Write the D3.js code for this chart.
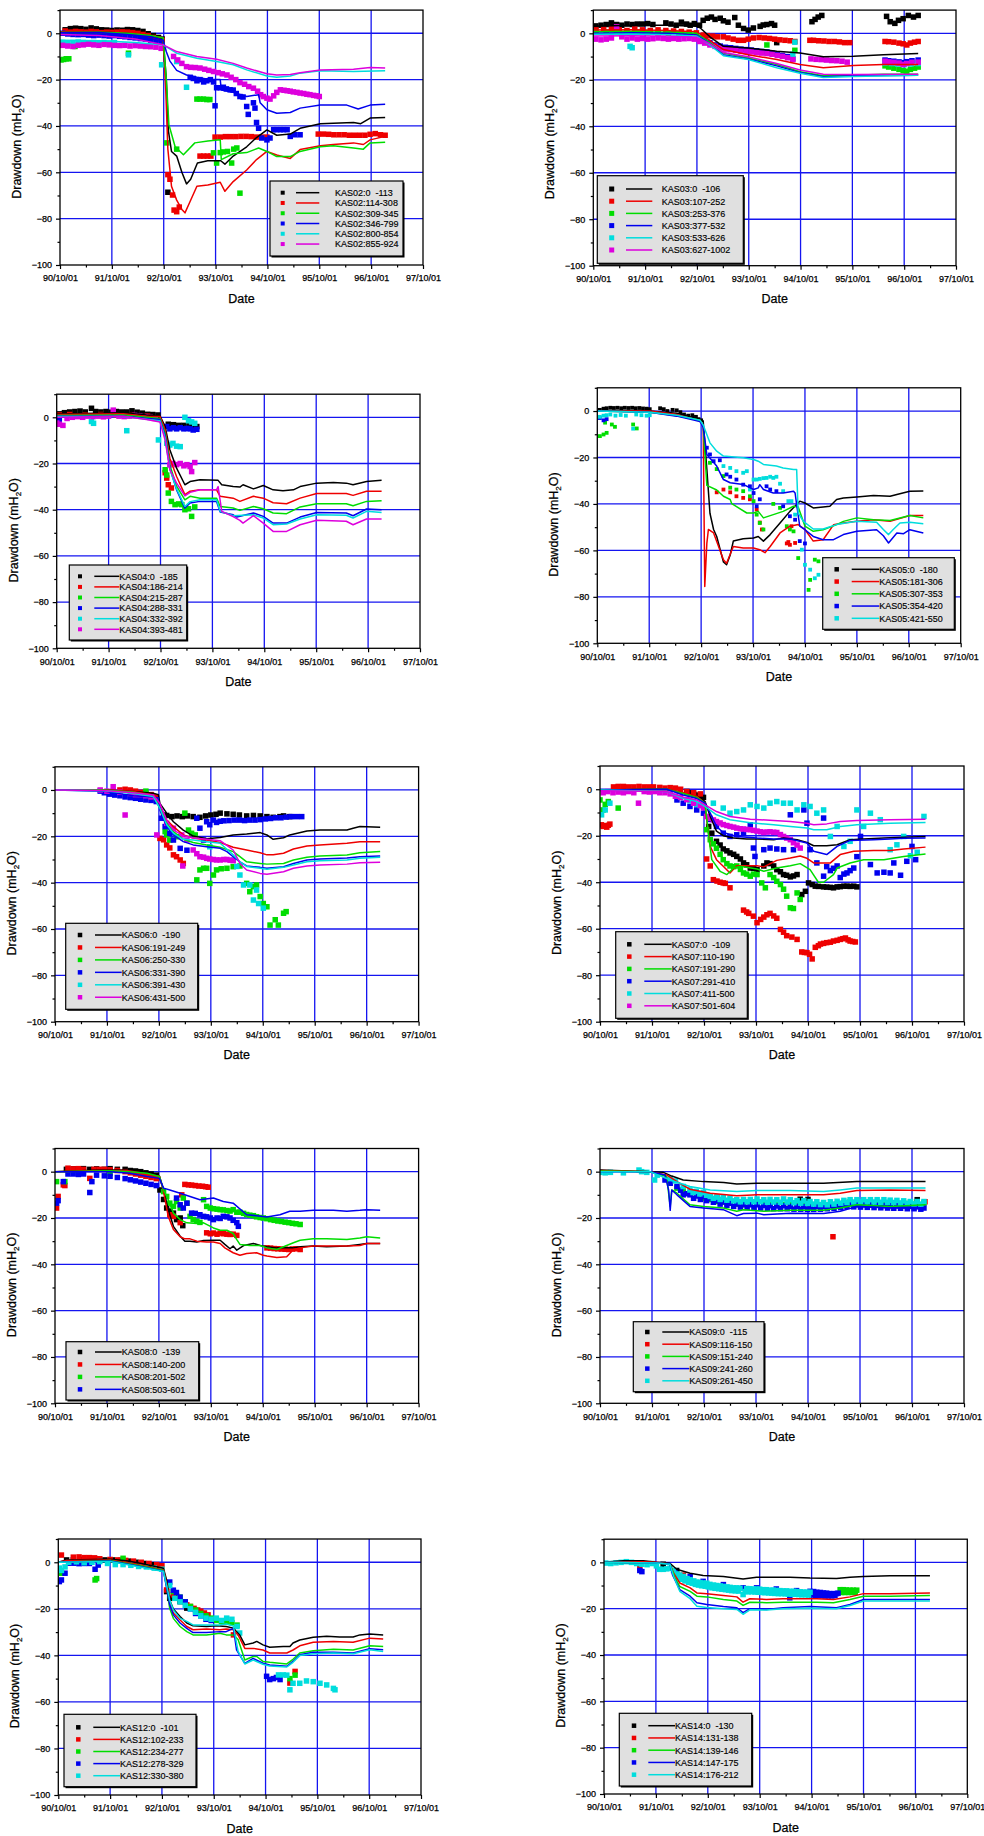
<!DOCTYPE html>
<html><head><meta charset="utf-8">
<script src="https://cdn.jsdelivr.net/npm/d3@7"></script>
<style>
body{margin:0;background:#fff;}
svg{display:block;font-family:"Liberation Sans",Arial,sans-serif;}
text{white-space:pre;}
</style></head>
<body>
<svg id="c" width="984" height="1836"></svg>
<script>
// ---------- shared axis data ----------
const xTickYears = [90.75, 91.75, 92.75, 93.75, 94.75, 95.75, 96.75, 97.75];
const xTickLabels = ["90/10/01","91/10/01","92/10/01","93/10/01","94/10/01","95/10/01","96/10/01","97/10/01"];
const xMinorYears = [91.25, 92.25, 93.25, 94.25, 95.25, 96.25, 97.25];
const yTicks = [0, -20, -40, -60, -80, -100];
const yMinor = [10, -10, -30, -50, -70, -90];
const yGrid = [0, -20, -40, -60, -80];
const seriesColors = ["#000000", "#ee0000", "#00dd00", "#0000ee", "#00dddd", "#dd00dd"];

// ---------- KAS02 ----------
const kas02Names = ["KAS02:0\u00a0 -113","KAS02:114-308","KAS02:309-345","KAS02:346-799","KAS02:800-854","KAS02:855-924"];
const kas02Lines = [
 [[90.75,0.4],[91.5,0.5],[92.04,0],[92.3,-0.8],[92.6,-1.8],[92.74,-2.5],[92.8,-20],[92.84,-42],[92.9,-51],[93.0,-53],[93.1,-60],[93.19,-65],[93.27,-63],[93.4,-56],[93.6,-55],[93.85,-55],[93.93,-56.5],[94.09,-53],[94.35,-49],[94.54,-45],[94.74,-41.7],[94.93,-44],[95.19,-43.5],[95.38,-41],[95.77,-39],[96.02,-38.8],[96.41,-38.5],[96.55,-39],[96.73,-36.6],[97.02,-36.3]],
 [[90.75,0.6],[91.5,0.6],[92.04,0],[92.5,-1.5],[92.74,-3],[92.79,-25],[92.83,-50],[92.9,-66],[93.0,-72],[93.1,-76],[93.16,-77.5],[93.25,-73],[93.39,-66],[93.6,-65.5],[93.84,-64.3],[93.93,-68.2],[94.09,-64],[94.35,-59],[94.54,-54.5],[94.74,-51],[94.93,-52.5],[95.19,-54],[95.38,-50.2],[95.77,-48.5],[96.02,-48],[96.41,-47.3],[96.6,-48],[96.73,-46],[97.02,-44.5]],
 [[90.75,0.3],[91.5,0.4],[92.04,0],[92.5,-1],[92.74,-2],[92.8,-20],[92.85,-39.5],[92.97,-49],[93.13,-52.4],[93.35,-47.3],[93.6,-46.5],[93.84,-46],[93.86,-54.5],[94.09,-52],[94.35,-51.5],[94.58,-49.5],[94.74,-51],[94.93,-53.2],[95.19,-53.2],[95.38,-51],[95.77,-49],[96.02,-48.5],[96.41,-49.5],[96.6,-50],[96.73,-47.3],[97.02,-47]],
 [[90.75,0.2],[91.5,0.3],[92.04,-0.5],[92.5,-1.5],[92.74,-3],[92.8,-8],[92.87,-12],[93.0,-16],[93.19,-18],[93.39,-19],[93.65,-20],[93.84,-20],[93.86,-24.5],[94.09,-25.5],[94.35,-27.3],[94.58,-26.5],[94.61,-30],[94.74,-33],[94.93,-34.5],[95.19,-34.2],[95.38,-32.3],[95.77,-31],[96.28,-31],[96.5,-32.7],[96.73,-31],[97.02,-30.6]],
 [[90.75,-3],[91.5,-3.2],[92.2,-4],[92.74,-5],[93.0,-8.6],[93.39,-10.8],[93.77,-12.2],[94.09,-13.6],[94.35,-15.8],[94.74,-18.4],[94.93,-19],[95.19,-18.4],[95.38,-17.2],[95.77,-16.2],[96.41,-16.5],[97.02,-16.2]],
 [[90.75,-0.5],[91.5,-1],[92.2,-2.5],[92.74,-5],[93.0,-7.9],[93.39,-10],[93.77,-11.2],[94.09,-13],[94.35,-15],[94.74,-17.5],[94.93,-18],[95.19,-17.8],[95.38,-17],[95.77,-15.8],[96.41,-15.5],[96.73,-14.8],[97.02,-15]]
];
const kas02Points = [
 [[90.85,1.5],[90.95,2],[91.05,2.2],[91.15,2],[91.25,1.7],[91.35,2.3],[91.45,1.9],[91.55,1.5],[91.65,1.4],[91.75,1.2],[91.85,1.4],[91.95,1.3],[92.05,1.6],[92.15,1.5],[92.25,1.2],[92.35,0.8],[92.45,-0.2],[92.55,-1],[92.65,-1.8],[92.72,-2.5],[92.83,-68.6]],
 [[90.85,1],[90.95,0.5],[91.05,0.8],[91.15,0.6],[91.25,0.5],[91.35,0.8],[91.45,0.6],[91.55,0.3],[91.65,0.5],[91.75,0.4],[91.85,0.5],[91.95,0.6],[92.05,0.5],[92.15,0.3],[92.25,0],[92.35,-0.5],[92.45,-1],[92.55,-1.8],[92.65,-2.5],[92.72,-3],[92.83,-61],[92.87,-63],[92.92,-69.8],[92.95,-76.3],[93.0,-77],[93.05,-75],[93.45,-53],[93.52,-53],[93.59,-53],[93.66,-53],[93.74,-44.8],[93.84,-44.8],[93.94,-44.6],[94.04,-44.6],[94.14,-44.6],[94.24,-44.5],[94.34,-44.5],[94.44,-44.6],[94.54,-44.8],[94.64,-44.8],[94.74,-44.8],[95.73,-43.5],[95.83,-43.5],[95.93,-43.6],[96.03,-43.8],[96.13,-43.8],[96.23,-43.8],[96.33,-44],[96.43,-44],[96.53,-44],[96.63,-44],[96.73,-43.6],[96.83,-43.3],[96.93,-43.8],[97.02,-44]],
 [[90.77,-11.5],[90.82,-11.3],[90.87,-11],[90.92,-11],[91.04,-5.7],[92.07,-8.6],[92.81,-47.3],[93.0,-50],[93.39,-28.4],[93.45,-28.4],[93.52,-28.4],[93.58,-28.6],[93.64,-28.6],[93.71,-51.6],[93.77,-56],[93.84,-51.5],[93.9,-51.2],[93.98,-51],[94.06,-56],[94.1,-50],[94.16,-49.5],[94.22,-69]],
 [[90.8,0],[90.9,-0.3],[91.0,-0.5],[91.1,-0.6],[91.2,-0.5],[91.3,-0.8],[91.4,-1],[91.5,-0.8],[91.6,-1],[91.7,-1.2],[91.8,-1],[91.9,-1.3],[92.0,-1.5],[92.1,-1.8],[92.2,-2],[92.3,-2.3],[92.4,-2.5],[92.5,-3],[92.6,-3.5],[92.7,-4],[93.26,-19],[93.32,-19.5],[93.39,-20.5],[93.45,-20],[93.52,-21],[93.58,-20.5],[93.65,-20],[93.71,-21],[93.74,-31.3],[93.77,-23.5],[93.84,-23.5],[93.9,-23.3],[93.96,-24],[94.03,-24.4],[94.09,-24.5],[94.15,-26],[94.22,-27.3],[94.28,-27.5],[94.35,-31.6],[94.38,-35],[94.48,-30],[94.51,-32.3],[94.54,-38.5],[94.58,-41],[94.64,-45.2],[94.74,-46],[94.8,-45.2],[94.87,-41.6],[94.93,-41.6],[95.0,-41.6],[95.06,-41.6],[95.13,-41.6],[95.19,-44.5],[95.28,-43.8],[95.38,-43.8]],
 [[90.8,-4],[90.9,-4.2],[91.0,-4],[91.1,-3.8],[91.2,-4],[91.3,-4.2],[91.4,-4],[91.5,-4.3],[91.6,-4],[91.7,-4.2],[91.8,-4],[92.07,-9.3],[92.71,-13.6],[93.0,-12.2],[93.19,-23.3]],
 [[90.8,-5.2],[90.9,-5.5],[91.0,-5.7],[91.1,-5.2],[91.2,-5],[91.3,-4.7],[91.4,-5],[91.5,-5.2],[91.6,-4.8],[91.7,-5],[91.8,-5.2],[91.9,-5.3],[92.0,-5.2],[92.1,-5.5],[92.2,-5.3],[92.3,-5.5],[92.4,-5.7],[92.5,-5.8],[92.6,-6],[92.7,-6.5],[92.94,-10],[93.02,-11.5],[93.1,-13],[93.19,-14.4],[93.27,-14.7],[93.36,-14.8],[93.45,-15],[93.54,-15.5],[93.62,-16],[93.71,-16.5],[93.8,-17],[93.88,-17.5],[93.97,-18],[94.05,-19],[94.14,-20],[94.22,-21.3],[94.31,-22],[94.39,-23],[94.48,-23.7],[94.56,-25],[94.62,-26.5],[94.67,-27.3],[94.74,-28],[94.8,-28.4],[94.87,-27],[94.93,-25.5],[95.0,-24.4],[95.07,-24.6],[95.13,-24.8],[95.19,-25],[95.25,-25.3],[95.32,-25.5],[95.38,-25.8],[95.45,-26],[95.51,-26.3],[95.57,-26.5],[95.64,-26.8],[95.7,-27],[95.75,-27.3]]
];

// ---------- KAS03 ----------
const kas03Names = ["KAS03:0\u00a0 -106","KAS03:107-252","KAS03:253-376","KAS03:377-532","KAS03:533-626","KAS03:627-1002"];
const kas03Lines = [
 [[90.75,3],[91.5,3.5],[92.2,3.5],[92.74,3],[92.81,2.4],[93.0,-1.5],[93.26,-5.6],[93.74,-6.3],[94.29,-7.7],[94.74,-8.5],[95.19,-10.1],[95.77,-9.9],[96.35,-9.2],[97.02,-8.7]],
 [[90.75,1.4],[91.5,1.5],[92.2,1.2],[92.74,0.7],[93.0,-3],[93.26,-7],[93.74,-9.2],[94.29,-11.3],[94.74,-13.4],[95.19,-14.8],[95.77,-13.8],[96.35,-13.4],[97.02,-13.4]],
 [[90.75,0.7],[91.5,0.8],[92.2,0.5],[92.74,0],[93.0,-4],[93.26,-8.5],[93.74,-10.6],[94.29,-13.4],[94.74,-16.5],[95.19,-18.3],[95.77,-18],[96.35,-17.6],[97.02,-17.6]],
 [[90.75,0],[91.5,0.2],[92.2,0],[92.74,-0.7],[93.0,-4.5],[93.26,-9.2],[93.74,-11],[94.29,-14],[94.74,-16.9],[95.19,-18.7],[95.77,-18.3],[97.02,-18]],
 [[90.75,-0.4],[91.5,-0.3],[92.2,-0.6],[92.74,-1.1],[93.0,-5],[93.26,-9.6],[93.74,-11.3],[94.29,-14.8],[94.74,-17.2],[95.19,-19],[95.77,-18.6],[97.02,-18]],
 [[90.75,-1.1],[91.5,-1],[92.2,-1.2],[92.74,-1.7],[93.0,-4.5],[93.26,-8.2],[93.74,-10.1],[94.29,-13],[94.74,-15.8],[95.19,-17.6],[95.77,-17.7],[97.02,-17.6]]
];
const kas03Points = [
 [[90.8,3.2],[90.9,3.5],[91.0,3.8],[91.1,4.5],[91.2,3.8],[91.3,3.5],[91.4,4],[91.5,3.8],[91.6,4],[91.7,4],[91.8,4.2],[91.9,3.8],[92.15,4.5],[92.25,4],[92.35,3.5],[92.45,4.8],[92.55,4],[92.62,3.5],[92.7,4.2],[92.8,3.5],[92.87,5.6],[92.95,6.5],[93.03,7],[93.1,6],[93.2,6.5],[93.26,5.4],[93.35,4.8],[93.48,6.8],[93.55,3.5],[93.65,2.1],[93.74,1.4],[93.84,2.3],[93.97,3],[94.03,3.6],[94.1,3.8],[94.19,4.2],[94.25,3.5],[94.29,-4],[94.97,5],[95.03,6],[95.09,7],[95.16,7.7],[96.41,7.3],[96.48,5],[96.57,4.3],[96.64,5.6],[96.73,6.3],[96.83,7.7],[96.93,7],[97.02,7.7]],
 [[90.8,1.5],[90.95,1.8],[91.1,2],[91.25,1.5],[91.4,1.2],[91.55,1.8],[91.7,1.5],[91.85,1.2],[92.0,1.5],[92.15,1.2],[92.3,1],[92.45,0.8],[92.6,0.5],[92.74,0.2],[92.87,-0.7],[92.95,-1],[93.05,-1.2],[93.15,-1.5],[93.26,-1.5],[93.35,-2],[93.45,-2.5],[93.55,-3],[93.65,-3],[93.74,-2.5],[93.84,-2],[93.95,-1.8],[94.05,-2],[94.15,-2.2],[94.25,-2.5],[94.35,-2.8],[94.45,-3],[94.55,-3.2],[94.64,-3.5],[94.93,-3],[95.0,-3],[95.1,-3.2],[95.2,-3.3],[95.3,-3.5],[95.4,-3.5],[95.5,-3.7],[95.6,-4],[95.7,-4],[96.38,-3.5],[96.45,-3.6],[96.55,-3.8],[96.65,-4.2],[96.73,-4.5],[96.8,-5],[96.87,-4.2],[96.95,-3.8],[97.02,-3.5]],
 [[90.8,0.5],[91.0,0.5],[91.2,0.8],[91.4,0.5],[91.6,0.5],[91.8,0.3],[92.0,0.3],[92.2,0],[92.4,-0.2],[92.6,-0.5],[94.1,-5],[94.64,-7.3],[96.38,-14],[96.45,-14.5],[96.55,-15],[96.65,-15.5],[96.73,-16],[96.8,-16.3],[96.87,-15.5],[96.95,-15],[97.02,-14.5]],
 [[92.9,-3],[93.0,-4],[93.1,-5],[93.2,-5.5],[93.3,-6],[93.4,-6.2],[93.5,-6.5],[93.6,-6.8],[93.7,-7],[93.8,-7.2],[93.9,-7.5],[94.0,-7.8],[94.1,-8],[94.2,-8.5],[94.3,-9],[94.4,-9.5],[94.5,-10],[94.6,-11],[96.38,-11.5],[96.45,-11.8],[96.55,-12],[96.65,-12.3],[96.73,-12.6],[96.8,-12.2],[96.9,-11.8],[97.02,-11.5]],
 [[91.46,-5.6],[91.5,-6.2],[94.64,-3.8],[94.6,-9],[96.38,-12.8],[96.5,-13],[96.62,-13.2],[96.75,-13.5],[96.88,-13.2],[97.02,-13]],
 [[90.8,-2.5],[90.9,-2.8],[91.0,-2.5],[91.1,-2],[91.2,2.8],[91.3,-1.5],[91.4,-2.5],[91.5,-2],[91.6,-2.5],[91.7,-2.2],[91.8,-2.5],[91.9,-2.3],[92.0,-2],[92.1,-2.2],[92.2,-2.5],[92.3,-2.2],[92.4,-2.5],[92.5,-2.3],[92.6,-2.2],[92.7,-2.5],[92.8,-3.5],[92.9,-4.2],[93.0,-5],[93.1,-5.6],[93.2,-6.3],[93.3,-6.8],[93.4,-7],[93.5,-7.3],[93.6,-7.7],[93.7,-7.8],[93.8,-8],[93.9,-8.3],[94.0,-8.5],[94.1,-8.7],[94.2,-9],[94.3,-9.5],[94.4,-9.9],[94.5,-10.5],[94.6,-11.3],[94.95,-11],[95.05,-11.2],[95.15,-11.3],[95.25,-11.5],[95.35,-11.7],[95.45,-11.8],[95.55,-12],[95.65,-12.4],[96.38,-12],[96.45,-12.3],[96.55,-12.5],[96.65,-12.8],[96.73,-13.4],[96.8,-13],[96.9,-12.5],[97.02,-12.4]]
];

// ---------- KAS04 ----------
const kas04Names = ["KAS04:0\u00a0 -185","KAS04:186-214","KAS04:215-287","KAS04:288-331","KAS04:332-392","KAS04:393-481"];
const kas04Lines = [
 [[90.75,1.4],[92.03,2],[92.48,1],[92.74,0.6],[92.84,-4],[92.93,-14],[93.06,-22],[93.22,-29.2],[93.32,-27.8],[93.51,-27],[93.86,-27.3],[93.93,-29.2],[94.15,-30],[94.28,-30.2],[94.34,-29.2],[94.54,-31],[94.73,-29.5],[94.92,-31.4],[95.11,-31.8],[95.31,-31.4],[95.44,-30],[95.76,-28.5],[96.08,-28.2],[96.33,-28.5],[96.46,-29.2],[96.72,-27.8],[97.01,-27.3]],
 [[90.75,1.2],[92.03,1.5],[92.48,0.5],[92.74,0.3],[92.84,-5.5],[92.93,-17.7],[93.06,-25.6],[93.22,-33.5],[93.32,-32],[93.51,-31.4],[93.83,-31.4],[93.9,-34.2],[94.15,-35],[94.28,-36.4],[94.54,-34.2],[94.73,-35],[94.92,-37],[95.18,-37.4],[95.44,-35],[95.76,-33],[96.33,-33],[96.46,-33.8],[96.72,-32],[97.01,-32]],
 [[90.75,0.8],[92.03,1],[92.48,0],[92.74,-0.5],[92.84,-7],[92.93,-20.6],[93.06,-29.8],[93.22,-35.7],[93.32,-34.2],[93.51,-35],[93.83,-35],[93.9,-38.6],[94.15,-39.3],[94.28,-40.3],[94.54,-38.6],[94.73,-39.6],[94.92,-41.4],[95.18,-41.7],[95.44,-38.8],[95.76,-37.4],[96.33,-37.4],[96.46,-38.3],[96.72,-36.4],[97.01,-36.1]],
 [[90.75,0.5],[92.03,0.5],[92.48,-0.5],[92.74,-1],[92.84,-8],[92.93,-22],[93.06,-31.4],[93.22,-39.3],[93.32,-37.1],[93.51,-36.4],[93.83,-36.4],[93.9,-41],[94.15,-42.2],[94.22,-43.2],[94.54,-41.4],[94.73,-42.9],[94.92,-45.8],[95.18,-45.8],[95.44,-43.2],[95.76,-41.2],[96.33,-41.4],[96.46,-42.6],[96.72,-39.7],[97.01,-40]],
 [[90.75,0.3],[92.03,0.3],[92.48,-0.8],[92.74,-1.5],[92.84,-9],[92.93,-22.5],[93.06,-31],[93.22,-38.6],[93.32,-36.5],[93.51,-35.7],[93.83,-35.7],[93.9,-40.7],[94.15,-42.6],[94.54,-42.2],[94.73,-43.6],[94.92,-46.5],[95.18,-46.2],[95.44,-44],[95.76,-42.2],[96.33,-42.4],[96.46,-43.6],[96.72,-40.7],[97.01,-41.2]],
 [[90.75,0],[92.03,0.5],[92.48,-1],[92.74,-2],[92.84,-10],[92.93,-22.7],[93.06,-28.5],[93.22,-34],[93.32,-32.5],[93.51,-31.4],[93.83,-31.4],[93.86,-30],[93.93,-40.7],[94.15,-43],[94.28,-44.6],[94.34,-45.8],[94.54,-42.6],[94.73,-45.8],[94.92,-49.4],[95.18,-49.4],[95.44,-46.5],[95.76,-44.6],[96.33,-45],[96.46,-46.5],[96.72,-44],[97.01,-44]]
];
const kas04Points = [
 [[90.8,1.5],[90.9,2],[91.0,2.3],[91.1,2.5],[91.2,2.7],[91.3,2.3],[91.42,3.9],[91.5,2.5],[91.6,2.3],[91.7,2.5],[91.8,2.2],[91.9,2.5],[92.0,2.3],[92.1,2.3],[92.2,2.8],[92.3,2.2],[92.4,1.8],[92.5,1.3],[92.6,1.2],[92.7,1],[92.9,-3],[93.0,-3.2],[93.1,-3.5],[93.2,-3.5],[93.3,-3.3],[93.38,-3.8],[93.45,-4]],
 [[90.8,1],[91.0,1.2],[91.3,1],[91.6,1.2],[91.9,1],[92.2,0.8],[92.5,0.5],[92.84,-24],[92.87,-26.3],[92.9,-29.2],[92.96,-30.6]],
 [[92.84,-22.7],[92.87,-25],[92.9,-32.8],[92.96,-36.4],[93.03,-37.8],[93.1,-37.5],[93.16,-37.8],[93.22,-40],[93.29,-39.6],[93.35,-42.9],[93.41,-38.8]],
 [[90.75,-1],[90.8,-1.5],[92.87,-4],[92.93,-5],[93.0,-4.5],[93.06,-5],[93.13,-4.5],[93.2,-5],[93.26,-4.8],[93.32,-5],[93.38,-5.5],[93.45,-5.2]],
 [[91.46,-2.6],[91.42,-1.8],[92.1,-5.8],[92.71,-9.8],[92.87,-11.2],[92.93,-12],[92.99,-11.3],[93.06,-12.5],[93.13,-12.7],[93.22,0],[93.29,-1.5],[93.35,-2],[93.41,-2.6]],
 [[90.75,-2.5],[90.8,-3],[90.87,-3.5],[90.95,-0.5],[91.05,0],[91.15,0.3],[91.25,0],[91.35,0.5],[91.45,0.3],[91.55,0.5],[91.65,0.2],[91.75,0.5],[91.84,3.1],[91.95,0.5],[92.05,0.3],[92.15,0.5],[92.25,0.8],[92.35,0.5],[92.45,0.3],[92.55,0],[92.65,-0.5],[92.93,-20.6],[92.99,-20],[93.06,-20.5],[93.13,-20],[93.2,-21],[93.26,-20.5],[93.32,-21.3],[93.35,-23.5],[93.41,-19.6]]
];

// ---------- KAS05 ----------
const kas05Names = ["KAS05:0\u00a0 -180","KAS05:181-306","KAS05:307-353","KAS05:354-420","KAS05:421-550"];
const kas05Lines = [
 [[90.75,0],[91.76,0],[92.28,-1],[92.73,-3.6],[92.79,-4.3],[92.86,-25],[92.92,-44],[92.99,-51],[93.05,-54],[93.18,-65],[93.24,-66.2],[93.31,-62],[93.37,-56],[93.56,-55],[93.76,-54.7],[93.85,-54],[93.95,-56],[94.08,-53.2],[94.27,-48.2],[94.46,-43.2],[94.65,-38.8],[94.75,-39.6],[94.91,-41.7],[95.1,-41.3],[95.23,-41],[95.36,-38.1],[95.49,-37.4],[95.75,-37],[96.07,-36.4],[96.39,-36.7],[96.52,-35.9],[96.77,-34.5],[97.03,-34.4]],
 [[90.75,0],[91.76,0],[92.28,-1.5],[92.73,-4.3],[92.79,-6.5],[92.82,-75.5],[92.86,-57],[92.89,-51],[92.99,-52.5],[93.18,-64],[93.24,-65.5],[93.37,-58.3],[93.56,-59],[93.76,-59],[93.88,-59.7],[93.98,-61],[94.08,-58.3],[94.27,-52.5],[94.46,-49.6],[94.62,-48.9],[94.75,-51],[94.91,-56],[95.1,-55.4],[95.3,-49],[95.49,-48.2],[95.75,-47.5],[96.07,-46.8],[96.39,-47.5],[96.77,-45],[97.03,-45]],
 [[90.75,0],[91.76,-0.5],[92.28,-2],[92.73,-4],[92.79,-6.5],[92.86,-32],[93.05,-34],[93.18,-36.7],[93.31,-38.1],[93.34,-39.9],[93.63,-43.9],[93.76,-43.9],[93.85,-43.2],[93.95,-46],[94.14,-44.6],[94.33,-43.2],[94.53,-41],[94.62,-41.3],[94.75,-49.6],[94.91,-51.8],[95.1,-51.1],[95.36,-48.9],[95.49,-47.5],[95.75,-46],[96.07,-46.8],[96.39,-47.1],[96.77,-45],[97.03,-46]],
 [[90.75,0],[91.76,-0.5],[92.28,-2.2],[92.73,-4.5],[92.79,-7],[92.86,-18.7],[93.05,-23.7],[93.18,-29.5],[93.31,-30.9],[93.56,-31.6],[93.76,-33.8],[93.85,-33.1],[93.88,-31.7],[93.95,-33.8],[94.14,-35.3],[94.33,-35.3],[94.53,-34.5],[94.56,-35.3],[94.59,-40.3],[94.65,-49.6],[94.75,-51.1],[94.91,-54],[95.1,-55.4],[95.3,-55.4],[95.49,-53.2],[95.75,-51.8],[96.13,-51.1],[96.26,-53.7],[96.36,-56.8],[96.52,-52.5],[96.65,-52.8],[96.77,-51.1],[97.03,-52.5]],
 [[90.75,0],[91.76,-0.5],[92.28,-1.8],[92.73,-4],[92.79,-6],[92.92,-13.7],[93.05,-17.3],[93.18,-19.4],[93.56,-20.1],[93.76,-20.9],[93.85,-21.6],[93.95,-23],[94.2,-23.7],[94.33,-24.5],[94.53,-25.2],[94.59,-25.2],[94.62,-43.9],[94.72,-47.5],[94.91,-50.8],[95.1,-50.8],[95.36,-48.9],[95.75,-47.5],[96.13,-47.9],[96.26,-51],[96.36,-53.2],[96.45,-51],[96.58,-48.2],[96.77,-47.9],[97.03,-48.5]]
];
const kas05Points = [
 [[90.8,0.5],[90.87,1],[90.93,1.2],[91.0,1.4],[91.07,1.3],[91.14,1.4],[91.21,1.2],[91.28,1.4],[91.35,1.3],[91.42,1.4],[91.49,1.2],[91.56,1.3],[91.63,1.1],[91.7,1],[91.76,0.8],[91.96,1.2],[92.03,0.8],[92.1,0],[92.2,0.5],[92.28,0.3],[92.35,-0.5],[92.42,-1.5],[92.5,-2],[92.58,-1.8],[92.65,-2.5],[92.7,-3.5],[92.75,-4]],
 [[93.05,-35],[93.18,-33.8],[93.31,-35],[93.43,-36.7],[93.56,-37.4],[93.69,-38],[93.82,-42.4],[93.88,-48],[93.92,-51],[94.4,-57],[94.43,-56.4],[94.46,-57.6],[94.56,-56.8],[94.49,-49.6]],
 [[90.8,-10.8],[90.87,-10.1],[90.93,-9.4],[90.9,-5],[91.03,-5.8],[91.09,-6.8],[91.44,-5.8],[91.51,-7.5],[92.92,-22.3],[93.05,-25],[93.18,-28],[93.31,-33],[93.43,-33.8],[93.56,-34.5],[93.69,-36.7],[93.76,-38.8],[93.82,-44.6],[93.88,-48.2],[93.95,-51],[94.14,-40],[94.27,-41.7],[94.4,-49.6],[94.46,-51],[94.53,-51.8],[94.62,-63.3],[94.82,-77],[94.85,-72.7],[94.94,-64],[95.01,-64.7]],
 [[90.8,-3],[90.87,-4],[90.93,-3.5],[92.86,-15.8],[92.92,-18.7],[92.99,-21.6],[93.11,-21.2],[93.24,-27.3],[93.31,-28.3],[93.43,-29.5],[93.56,-31.7],[93.69,-32.4],[93.76,-35.3],[93.82,-41],[93.88,-38],[94.01,-32.4],[94.08,-33.8],[94.2,-34.5],[94.33,-41],[94.46,-45.3],[94.56,-46.8],[94.65,-56],[94.75,-57]],
 [[90.8,-2.5],[90.87,-2],[90.93,-1.8],[91.0,-1.5],[91.1,-2],[91.2,-1.7],[91.3,-2],[91.44,-7.6],[91.5,-1.5],[91.6,-1.8],[91.7,-2],[91.76,-1.8],[93.18,-23.7],[93.31,-24.5],[93.43,-25.9],[93.56,-26.6],[93.63,-25.9],[93.69,-33.8],[93.76,-29.5],[93.82,-29.5],[93.88,-29.2],[93.95,-28.9],[94.01,-28.8],[94.08,-28.3],[94.14,-28.8],[94.2,-28.3],[94.27,-31.3],[94.33,-34.5],[94.43,-38.8],[94.49,-38.8],[94.56,-44.6],[94.69,-59.7],[94.75,-66.2],[94.85,-68.3],[94.94,-72],[95.01,-70.5]]
];

// ---------- KAS06 ----------
const kas06Names = ["KAS06:0\u00a0 -190","KAS06:191-249","KAS06:250-330","KAS06:331-390","KAS06:391-430","KAS06:431-500"];
const kas06Lines = [
 [[90.75,0],[91.68,0],[92.26,-0.7],[92.64,-1.4],[92.74,-2],[92.77,-5.8],[92.9,-10],[93.03,-13.7],[93.22,-17.3],[93.41,-19.9],[93.67,-21],[93.93,-20.5],[94.18,-19.4],[94.44,-19],[94.7,-18.4],[94.83,-19.4],[94.95,-21.3],[95.15,-20.6],[95.27,-19.4],[95.6,-17.7],[95.85,-17.3],[96.37,-17.3],[96.49,-16.5],[96.62,-15.8],[97.01,-16.1]],
 [[90.75,0],[91.68,0],[92.26,-0.7],[92.64,-2.2],[92.77,-7.2],[92.9,-13],[93.03,-15.8],[93.22,-19.4],[93.41,-20.7],[93.67,-21.6],[93.93,-22.7],[94.18,-24.7],[94.44,-25.9],[94.7,-27.1],[94.83,-28],[94.95,-28],[95.15,-27.3],[95.34,-25.5],[95.6,-24.2],[95.85,-23.7],[96.37,-23],[96.62,-22.3],[97.01,-22.3]],
 [[90.75,0],[91.68,0],[92.26,-1],[92.64,-2.5],[92.77,-7.9],[92.9,-14.4],[93.03,-18],[93.22,-21.3],[93.41,-22.7],[93.67,-23.7],[93.93,-24.7],[94.18,-26.6],[94.31,-28.8],[94.44,-31],[94.7,-31.7],[94.83,-32],[95.15,-31.7],[95.34,-30.2],[95.6,-29],[95.85,-28.5],[96.37,-28.1],[96.62,-27.1],[97.01,-26.6]],
 [[90.75,0],[91.68,-0.5],[92.26,-2.5],[92.64,-3],[92.74,-3.5],[92.77,-8.6],[92.9,-15.8],[93.03,-19.4],[93.22,-22.3],[93.41,-23.7],[93.67,-24.5],[93.93,-25.2],[94.06,-26.6],[94.18,-28.8],[94.31,-31],[94.44,-32.8],[94.7,-33.4],[94.83,-33.8],[95.15,-33.1],[95.34,-31.7],[95.6,-30.2],[95.85,-29.8],[96.37,-29.4],[96.62,-28.8],[97.01,-28.5]],
 [[90.75,0],[91.68,-0.3],[92.26,-1.5],[92.64,-2.8],[92.77,-7.9],[92.9,-15],[93.03,-18.7],[93.22,-21.3],[93.41,-21.6],[93.67,-22.3],[93.93,-23],[94.18,-28],[94.31,-31],[94.44,-33],[94.7,-33.8],[94.83,-34.2],[95.15,-33.4],[95.34,-32.4],[95.6,-31],[95.85,-30.5],[96.37,-30.2],[96.62,-29.5],[97.01,-29]],
 [[90.75,0],[91.68,-0.2],[92.26,-1.2],[92.64,-2.2],[92.77,-5.8],[92.9,-13],[93.03,-17.3],[93.22,-19.7],[93.41,-20.7],[93.67,-21.3],[93.93,-21.9],[94.18,-25.9],[94.31,-31.7],[94.44,-34.5],[94.7,-36],[94.83,-36.4],[95.15,-35.3],[95.34,-33.8],[95.6,-32.8],[95.85,-32.4],[96.37,-32],[96.62,-31.4],[97.01,-31.2]]
];
const kas06Points = [
 [[92.84,-10.8],[92.9,-11],[93.0,-11.5],[93.1,-11.2],[93.2,-11.5],[93.3,-11.2],[93.41,-11.5],[93.54,-11.8],[93.65,-11.2],[93.75,-10.8],[93.85,-10.5],[93.93,-10],[94.06,-10.3],[94.18,-10.5],[94.3,-10.8],[94.44,-11.2],[94.57,-11],[94.7,-11.2],[94.83,-11.5],[94.95,-11.8],[95.08,-11.5],[95.15,-11.2],[95.27,-11.5]],
 [[91.87,-0.5],[92.0,0],[92.1,0.3],[92.2,0],[92.3,-0.5],[92.4,-1],[92.5,-1.5],[92.6,-2],[92.7,-3],[92.77,-20.9],[92.84,-21.5],[92.9,-23.7],[92.96,-25],[93.03,-28],[93.09,-28.8],[93.16,-30.2],[93.22,-31.7]],
 [[92.5,-0.5],[92.87,-18],[92.9,-19.4],[92.96,-21.6],[93.09,-20.2],[93.25,-10],[93.32,-17.3],[93.38,-18.7],[93.45,-19.4],[93.48,-38.8],[93.54,-34.5],[93.61,-33.8],[93.67,-33.8],[93.73,-40.3],[93.8,-36.7],[93.86,-34.5],[93.95,-34],[94.06,-33.8],[94.18,-33.1],[94.31,-32.8],[94.44,-40.3],[94.5,-43.9],[94.57,-41.7],[94.63,-41],[94.7,-46],[94.76,-49],[94.83,-50.4],[94.89,-58.3],[94.99,-56],[95.05,-58.3],[95.15,-53.2],[95.2,-52.5]],
 [[91.62,-0.5],[91.7,-1.2],[91.8,-1.8],[91.9,-2.2],[92.0,-2.5],[92.1,-3],[92.2,-3.3],[92.3,-3.6],[92.4,-4],[92.5,-4.3],[92.6,-4.5],[92.7,-5],[92.8,-12.2],[92.87,-15.8],[92.96,-18.7],[93.03,-21.6],[93.16,-25.2],[93.29,-26],[93.48,-12.2],[93.54,-16.5],[93.61,-21.6],[93.67,-13.7],[93.73,-15],[93.8,-13],[93.86,-14],[93.93,-13.5],[94.0,-13.3],[94.1,-13.2],[94.2,-13],[94.3,-13],[94.4,-13.2],[94.5,-13],[94.6,-13],[94.7,-12.8],[94.8,-12.5],[94.9,-12.3],[95.0,-12],[95.1,-12],[95.2,-11.7],[95.3,-11.5],[95.4,-11.5],[95.5,-11.5]],
 [[93.73,-24.5],[94.18,-30.2],[94.25,-33],[94.31,-36.7],[94.38,-41],[94.5,-41],[94.63,-43.2],[94.57,-47.5],[94.67,-49],[94.76,-51]],
 [[91.62,0],[91.75,-0.5],[91.87,1.4],[92.0,-1],[92.1,-10.8],[92.2,-1.5],[92.3,-2],[92.4,-2],[92.5,-2.5],[92.6,-3],[92.71,-19.4],[92.9,-14.4],[93.03,-16.5],[93.19,-19.4],[93.21,-32.8],[93.29,-21.6],[93.41,-25.9],[93.48,-27.5],[93.54,-28.8],[93.61,-29],[93.67,-29.5],[93.73,-29.8],[93.8,-30],[93.86,-30.2],[93.93,-30.2],[94.0,-30],[94.06,-30],[94.12,-30.3],[94.18,-30.5]]
];

// ---------- KAS07 ----------
const kas07Names = ["KAS07:0\u00a0 -109","KAS07:110-190","KAS07:191-290","KAS07:291-410","KAS07:411-500","KAS07:501-604"];
const kas07Lines = [
 [[90.75,-0.3],[91.78,0],[92.03,0],[92.35,-1.7],[92.61,-3.1],[92.77,-5.3],[92.87,-11.7],[92.99,-18],[93.12,-20],[93.32,-21],[93.57,-21.4],[93.77,-21.4],[94.09,-21.7],[94.28,-21],[94.54,-21.7],[94.73,-22.9],[94.86,-24.3],[95.11,-24.3],[95.31,-23.9],[95.56,-21.7],[95.82,-21.4],[96.21,-21],[96.59,-20.6],[97.01,-20.3]],
 [[90.75,-0.3],[92.03,0],[92.35,-1.5],[92.61,-3],[92.77,-6],[92.8,-13],[92.87,-24.6],[92.99,-30.3],[93.12,-33.1],[93.25,-36],[93.38,-32.9],[93.51,-32.9],[93.77,-32.9],[93.9,-33.4],[94.15,-30.6],[94.41,-29.6],[94.6,-28.7],[94.73,-29.7],[94.86,-31.7],[95.18,-31.7],[95.37,-28.1],[95.63,-26.7],[96.01,-26.3],[96.33,-26.3],[96.59,-25.7],[97.01,-24.9]],
 [[90.75,-0.3],[92.03,0],[92.35,-1.8],[92.61,-3.5],[92.77,-6],[92.84,-20.3],[92.9,-30.3],[93.06,-35.3],[93.19,-36.7],[93.32,-33.9],[93.45,-33.1],[93.77,-34.3],[93.9,-35.3],[94.15,-33.9],[94.41,-32.9],[94.6,-32],[94.79,-34.6],[94.95,-40],[95.05,-40],[95.24,-36.7],[95.31,-33.9],[95.56,-31.7],[95.82,-30.3],[96.21,-30.3],[96.59,-28.9],[97.01,-27.9]],
 [[90.75,-0.3],[92.03,0],[92.35,-2.5],[92.61,-4],[92.77,-6],[92.87,-10.3],[92.99,-16],[93.12,-18.6],[93.38,-20.3],[93.77,-21],[94.09,-21.4],[94.41,-21.4],[94.73,-23.1],[94.86,-26.7],[95.11,-28.1],[95.31,-24.6],[95.56,-22],[96.01,-21.7],[96.33,-21.4],[96.59,-21.1],[97.01,-21]],
 [[90.75,-0.3],[92.03,-1],[92.35,-3.9],[92.61,-5.3],[92.77,-7.4],[92.99,-11],[93.25,-13.1],[93.64,-14.4],[94.09,-15.3],[94.41,-16],[94.73,-16.7],[94.86,-17.4],[95.11,-17.4],[95.37,-16],[95.69,-15.3],[96.33,-14.6],[97.01,-14.3]],
 [[90.75,-0.6],[92.03,-1],[92.35,-3.4],[92.61,-4.6],[92.77,-6.7],[92.99,-9.6],[93.25,-11.7],[93.64,-12.9],[94.09,-13.4],[94.41,-13.9],[94.73,-14.6],[94.86,-15.3],[95.11,-14.9],[95.37,-13.9],[95.69,-13.4],[96.33,-13.1],[97.01,-12.9]]
];
const kas07Points = [
 [[92.42,-1],[92.48,-1.5],[92.55,-2],[92.61,-2.5],[92.68,-3],[92.74,-3.5],[92.84,-16],[92.9,-18.9],[92.99,-22.4],[93.06,-24],[93.12,-25.7],[93.19,-26.5],[93.25,-27.4],[93.32,-28],[93.38,-28.9],[93.45,-30],[93.51,-31.7],[93.57,-32.5],[93.64,-33.9],[93.7,-34],[93.77,-34.6],[93.9,-33],[93.96,-31.7],[94.02,-32],[94.09,-33],[94.15,-34.6],[94.22,-35.5],[94.28,-36.7],[94.34,-37],[94.41,-37.7],[94.47,-37.3],[94.54,-36.7],[94.63,-45.3],[94.7,-43.9],[94.76,-40.3],[94.83,-41],[94.89,-41.7],[94.95,-41.8],[95.05,-42],[95.11,-42.1],[95.18,-42.2],[95.24,-42.4],[95.31,-42],[95.37,-41.9],[95.44,-41.7],[95.5,-41.7],[95.56,-41.8],[95.63,-41.7],[95.69,-42]],
 [[90.78,-15.3],[90.81,-16],[90.85,-15.7],[90.88,-16.3],[90.91,-15.5],[90.94,-15],[91.01,1],[91.1,1.2],[91.2,1.2],[91.3,1],[91.4,1],[91.5,1.2],[91.6,1],[91.7,1],[91.78,1],[91.9,0.8],[92.0,0.5],[92.1,0.7],[92.2,0.5],[92.3,0],[92.42,-1],[92.55,-1.5],[92.68,-2],[92.8,-30],[92.87,-33],[92.93,-38.9],[93.0,-39.5],[93.06,-40],[93.12,-40.3],[93.16,-40.5],[93.25,-42.4],[93.51,-52],[93.57,-52.8],[93.61,-53.4],[93.7,-54.6],[93.77,-57.4],[93.84,-56],[93.9,-55],[93.96,-54],[94.02,-53.4],[94.09,-54.5],[94.15,-55.5],[94.22,-60.3],[94.28,-61.5],[94.34,-63],[94.44,-63.6],[94.54,-64.6],[94.63,-70],[94.68,-70.2],[94.73,-70.3],[94.78,-71],[94.83,-73],[94.89,-68],[94.95,-67.3],[94.99,-66.6],[95.05,-66.3],[95.11,-66],[95.18,-65.8],[95.24,-65.3],[95.31,-65],[95.37,-64.6],[95.42,-64.3],[95.47,-64],[95.52,-64.8],[95.56,-65.3],[95.61,-65.5],[95.66,-65.7]],
 [[90.75,-4.6],[90.81,-8.9],[90.85,-6.5],[90.91,-5.3],[91.1,-8.1],[92.8,-17.4],[92.87,-21.7],[92.93,-23.5],[92.99,-25.4],[93.06,-28],[93.12,-30.3],[93.19,-32],[93.25,-33],[93.32,-33.3],[93.38,-33],[93.45,-34.5],[93.51,-36],[93.57,-36.5],[93.64,-37.4],[93.7,-36.5],[93.77,-36.7],[93.86,-40.3],[93.93,-42.4],[94.02,-36.7],[94.09,-38],[94.15,-39.6],[94.22,-41],[94.28,-43],[94.34,-46],[94.41,-51],[94.47,-51.3],[94.54,-44.6],[94.6,-47.4]],
 [[92.23,-4.6],[92.35,-6],[92.48,-7.4],[92.61,-8.9],[92.74,-10.3],[92.87,-13],[92.99,-16],[93.12,-18.9],[93.25,-20.3],[93.38,-19.6],[93.51,-18.9],[93.64,-15.3],[93.7,-25.3],[93.73,-28.9],[93.9,-26],[94.02,-25.3],[94.15,-25.7],[94.28,-26],[94.41,-11],[94.47,-26],[94.67,-8.9],[94.73,-14.6],[94.79,-26],[94.92,-31.7],[95.05,-12.4],[95.05,-37.4],[95.11,-33.3],[95.18,-35],[95.24,-34],[95.31,-33],[95.37,-38],[95.44,-36.5],[95.5,-36],[95.56,-35],[95.63,-33.9],[95.69,-29],[95.76,-20.3],[95.95,-32.4],[96.08,-36],[96.21,-35.7],[96.33,-36],[96.4,-31.7],[96.53,-37],[96.65,-31],[96.75,-24.6],[96.82,-30.3]],
 [[90.78,-11],[90.85,-8.9],[90.94,-6],[92.48,-5],[92.55,-6],[92.61,-6.5],[92.68,-7],[92.93,-6],[93.12,-8.1],[93.25,-10.3],[93.38,-9.6],[93.51,-8.9],[93.64,-6.7],[93.77,-7.4],[93.9,-8.1],[94.02,-6],[94.15,-5.3],[94.28,-6],[94.41,-6],[94.54,-8.9],[94.67,-6.7],[94.79,-7.4],[94.92,-10.3],[95.05,-8.9],[95.18,-20.3],[95.31,-16],[95.44,-24.6],[95.56,-22.4],[95.69,-8.9],[95.82,-16],[95.95,-10.3],[96.14,-13.1],[96.33,-26],[96.46,-23.9],[96.59,-20.3],[96.72,-28.6],[96.85,-27.1],[96.98,-11.7]],
 [[90.81,-1.5],[90.9,-1],[91.0,-1.5],[91.1,-1.2],[91.2,-1.5],[91.3,-1],[91.4,-1.5],[91.49,-6],[91.6,-1],[91.7,-1.2],[91.8,-1],[91.9,-1.5],[92.0,-1.5],[92.1,-2],[92.2,-3],[92.3,-3.5],[92.42,-4.5],[92.55,-6],[92.68,-7],[92.74,-8],[92.8,-11.7],[92.87,-12.5],[92.93,-13.2],[92.99,-13.9],[93.06,-14.5],[93.12,-15.2],[93.19,-15.6],[93.25,-16],[93.32,-16.3],[93.38,-16.7],[93.45,-17],[93.51,-17.1],[93.57,-17.3],[93.64,-17.4],[93.7,-17.7],[93.77,-18],[93.84,-18.3],[93.9,-18.6],[93.96,-18.4],[94.02,-18.3],[94.09,-18.5],[94.15,-18.6],[94.22,-19.5],[94.28,-20.3],[94.34,-21],[94.41,-21.7],[94.47,-23],[94.54,-24],[94.6,-25.3]]
];

// ---------- KAS08 ----------
const kas08Names = ["KAS08:0\u00a0 -139","KAS08:140-200","KAS08:201-502","KAS08:503-601"];
const kas08Lines = [
 [[90.75,0],[91.62,0.7],[92.13,0.7],[92.39,0],[92.64,-0.7],[92.76,-1.9],[92.84,-7.9],[92.93,-16.4],[93.03,-23.6],[93.16,-27.9],[93.25,-30],[93.35,-30],[93.48,-30.4],[93.61,-29.7],[93.8,-29.6],[93.93,-29.6],[94.02,-31.4],[94.12,-33.3],[94.18,-32.1],[94.25,-33.9],[94.38,-31.9],[94.57,-31],[94.7,-31.9],[94.83,-32.4],[95.02,-32.9],[95.21,-32.9],[95.34,-32.9],[95.47,-32.4],[95.72,-32.1],[95.98,-32.4],[96.37,-32.1],[96.62,-31.4],[96.75,-31],[97.01,-31]],
 [[90.75,0],[91.62,0.5],[92.13,0.5],[92.39,-0.5],[92.64,-1.5],[92.76,-2],[92.84,-8.6],[92.93,-19.3],[93.03,-25],[93.16,-28.1],[93.25,-29],[93.35,-29],[93.48,-30],[93.67,-30.4],[93.8,-30.4],[93.93,-31],[94.02,-32.9],[94.18,-35],[94.31,-36.1],[94.44,-35.3],[94.63,-35],[94.76,-36.1],[94.83,-36.4],[95.02,-37.1],[95.21,-36.7],[95.27,-35.3],[95.34,-33.6],[95.47,-32.9],[95.72,-32.1],[96.37,-32.1],[96.62,-31.9],[96.75,-31],[97.01,-31]],
 [[90.75,0],[91.81,0.4],[92.19,0],[92.52,-0.7],[92.76,-2.1],[92.84,-7.9],[92.93,-12.1],[93.03,-17.9],[93.16,-20.7],[93.29,-22.1],[93.48,-22.4],[93.61,-22.1],[93.8,-24.3],[93.93,-25.3],[94.06,-25.3],[94.18,-26.7],[94.25,-29.3],[94.31,-31.4],[94.5,-31.9],[94.7,-31.9],[94.83,-32.9],[95.02,-33.6],[95.21,-31.9],[95.34,-30.7],[95.47,-29.6],[95.72,-29],[95.98,-29],[96.37,-29.3],[96.62,-28.6],[96.75,-28.1],[97.01,-28.6]],
 [[90.75,0],[91.81,0],[92.19,-0.7],[92.52,-2.1],[92.76,-2.9],[92.84,-7.1],[92.96,-7.9],[93.16,-9.3],[93.35,-10.7],[93.54,-12.1],[93.8,-11.4],[93.99,-12.9],[94.18,-13.6],[94.44,-18.6],[94.63,-19],[94.83,-19.6],[95.08,-18.6],[95.27,-17.1],[95.47,-17.1],[95.72,-16.7],[96.11,-16.7],[96.37,-17.1],[96.62,-16.7],[96.75,-16.4],[97.01,-16.7]]
];
const kas08Points = [
 [[90.97,1],[91.1,1.2],[91.2,1],[91.3,1.3],[91.42,1],[91.55,1.2],[91.7,1],[91.81,1.3],[91.95,1],[92.1,1],[92.2,0.5],[92.3,0.3],[92.4,0],[92.5,-0.5],[92.6,-1],[92.7,-1.5],[92.77,-7.9],[92.84,-12],[92.9,-15.7],[92.96,-17],[93.03,-17.9],[93.09,-20.7],[93.16,-20],[93.21,-23.3]],
 [[90.78,-15.7],[90.81,-10.7],[90.91,-5.7],[90.94,-6],[91.0,1.5],[91.1,1.2],[91.2,1.3],[91.3,1],[91.42,-2.9],[91.5,1],[91.6,1],[91.7,1],[91.81,0.8],[91.95,0.5],[92.1,0],[92.2,-0.5],[92.3,-1],[92.4,-1.5],[92.5,-2],[92.6,-2.5],[92.7,-3],[92.96,-18.6],[93.03,-19.3],[93.16,-22],[93.19,-10],[93.25,-5.5],[93.32,-5.7],[93.38,-5.8],[93.45,-6],[93.52,-6.2],[93.59,-6.3],[93.65,-6.5],[93.7,-6.7],[93.67,-26.4],[93.74,-26.8],[93.8,-26.5],[93.87,-27],[93.93,-26.5],[93.99,-26.8],[94.06,-27],[94.12,-27.1],[94.18,-27],[94.25,-27.5],[94.83,-32.9],[94.9,-33],[94.97,-33.2],[95.04,-33.3],[95.11,-33.4],[95.18,-33.5],[95.25,-33.6],[95.32,-33.4],[95.39,-33.3],[95.47,-33.6]],
 [[90.78,-4.3],[90.94,-4.3],[91.81,-0.7],[92.84,-8.6],[92.9,-10.7],[92.96,-13.6],[93.03,-15],[93.09,-12.9],[93.16,-15.7],[93.22,-11.4],[93.29,-13.6],[93.35,-19.3],[93.41,-20.7],[93.48,-21.4],[93.54,-21.9],[93.61,-12.1],[93.67,-15],[93.74,-15.7],[93.8,-16],[93.87,-16.2],[93.93,-16.4],[93.99,-16.5],[94.06,-16.8],[94.12,-17],[94.18,-16.4],[94.25,-17.5],[94.31,-17.5],[94.38,-18],[94.44,-18.5],[94.5,-18.8],[94.57,-19],[94.63,-19.5],[94.7,-19.8],[94.76,-20],[94.83,-20.3],[94.9,-20.7],[94.97,-21],[95.04,-21.3],[95.11,-21.5],[95.18,-21.8],[95.25,-22],[95.32,-22.3],[95.39,-22.5],[95.47,-22.8]],
 [[90.78,-13.6],[90.81,-12.5],[90.91,-4.3],[91.0,-1],[91.1,-1],[91.2,-1.2],[91.3,-1],[91.42,-9],[91.46,-4.3],[91.55,-1.5],[91.7,-1.8],[91.81,-2],[91.95,-2.5],[92.1,-3],[92.2,-3.5],[92.3,-4],[92.4,-4.5],[92.5,-5],[92.6,-5.5],[92.7,-6],[93.09,-11.4],[93.16,-14.3],[93.22,-15.7],[93.29,-13.6],[93.38,-17.9],[93.45,-18],[93.54,-18.6],[93.61,-19.3],[93.67,-19.5],[93.74,-20],[93.8,-20.7],[93.87,-20],[93.93,-20.2],[93.99,-19.3],[94.06,-19.5],[94.12,-20],[94.18,-21],[94.25,-22],[94.28,-23.6]]
];

// ---------- KAS09 ----------
const kas09Names = ["KAS09:0\u00a0 -115","KAS09:116-150","KAS09:151-240","KAS09:241-260","KAS09:261-450"];
const kas09Lines = [
 [[90.75,0.7],[91.71,0],[91.97,-0.3],[92.13,-1.9],[92.35,-3.6],[92.74,-4.3],[93.13,-4.7],[93.38,-5.3],[93.77,-5],[94.41,-5],[95.05,-5],[95.69,-4.3],[96.33,-4.3],[97.01,-4.3]],
 [[90.75,0.5],[91.71,0],[92.03,-1.4],[92.23,-4.3],[92.48,-7.6],[92.87,-9.3],[93.38,-10.4],[93.77,-10],[94.41,-10],[95.05,-10],[95.37,-9.3],[95.69,-8.1],[96.33,-7.9],[97.01,-8.1]],
 [[90.75,0.3],[91.71,0],[92.03,-2.1],[92.1,-15],[92.13,-7.9],[92.23,-9.3],[92.48,-14.3],[92.74,-15],[93.12,-15.7],[93.38,-17.1],[93.51,-16.4],[93.77,-16.9],[93.9,-17.1],[94.41,-16.7],[95.05,-16.7],[95.37,-15.7],[95.69,-14.3],[96.33,-15],[97.01,-14.3]],
 [[90.75,0],[91.71,0],[92.0,-1.4],[92.07,-7.9],[92.1,-16.7],[92.13,-7.9],[92.23,-10],[92.48,-15],[92.74,-15.7],[93.12,-16.4],[93.38,-19],[93.51,-18.1],[93.77,-17.9],[93.9,-18.6],[94.41,-17.9],[95.05,-18.1],[95.37,-17.1],[95.69,-15],[96.33,-15.7],[97.01,-15.7]],
 [[90.75,0],[91.71,0],[92.1,-3.6],[92.48,-6.4],[92.87,-7.9],[93.38,-8.6],[93.77,-8.1],[94.41,-8.1],[95.05,-8.6],[95.37,-7.9],[95.69,-7.1],[96.33,-7.1],[97.01,-7.1]]
];
const kas09Points = [
 [[94.6,-11.9],[94.75,-12],[96.85,-12.1]],
 [[95.23,-28.1],[92.5,-9],[93.0,-11],[97.0,-13]],
 [[92.23,-7.1],[92.35,-8],[92.48,-9.3],[92.61,-10],[92.74,-11.4],[92.87,-12],[92.99,-12.9],[93.12,-13.2],[93.25,-13.6],[93.38,-14],[93.51,-14.3],[93.64,-13.8],[93.77,-13.6],[93.9,-13.8],[94.02,-13.9],[94.15,-14],[94.28,-14.3],[94.41,-14.2],[94.54,-14.3],[94.67,-14.4],[94.79,-15],[94.92,-14.8],[95.05,-15],[95.18,-14.5],[95.31,-14],[95.44,-13.3],[95.56,-12.9],[95.69,-13.3],[95.82,-13.6],[95.95,-13.8],[96.08,-14],[96.21,-14.3],[96.33,-14.2],[96.46,-14],[96.59,-13.6],[96.72,-13.2],[96.85,-13.4],[96.98,-13.5]],
 [[92.0,-3.6],[92.1,-5],[92.23,-6.4],[92.35,-10],[92.48,-10],[92.61,-10.5],[92.74,-10.7],[92.87,-11.4],[93.0,-12.5],[93.12,-13],[93.25,-13.6],[93.38,-13.9],[93.51,-14.2],[93.64,-14.3],[93.77,-14.3],[93.9,-14.6],[94.02,-14.7],[94.15,-14.8],[94.28,-14.7],[94.41,-15],[94.54,-15],[94.67,-15.1],[94.79,-15.3],[94.92,-15],[95.05,-15],[95.18,-14.8],[95.31,-14.7],[95.44,-14.3],[95.56,-13.9],[95.69,-14.3],[95.82,-14.3],[95.95,-14.3],[96.08,-14.5],[96.21,-14.6],[96.33,-14.6],[96.46,-14.7],[96.59,-14.8],[96.72,-15],[96.85,-15.2],[96.98,-15.7],
  [92.3,-8],[92.42,-9.5],[92.55,-11.5],[92.68,-12],[92.8,-12.5],[92.93,-13.2],[93.06,-14],[93.19,-14.5],[93.32,-15],[93.45,-15.3],[93.58,-15.5],[93.71,-15.5],[93.84,-15.7],[93.97,-15.8],[94.09,-16],[94.22,-16],[94.35,-16],[94.48,-16.2],[94.61,-16.2],[94.74,-16.3],[94.86,-16.3],[94.99,-16.2],[95.12,-16],[95.25,-15.8],[95.38,-15.5],[95.5,-15],[95.63,-15.2],[95.76,-15.3],[95.89,-15.4],[96.02,-15.5],[96.15,-15.6],[96.28,-15.7],[96.4,-15.8],[96.53,-15.8],[96.66,-16],[96.79,-16],[96.92,-16.2]],
 [[90.75,-0.3],[90.85,-0.5],[90.95,-0.3],[91.2,-0.5],[91.5,0.7],[91.55,0],[91.65,-0.3],[91.8,-3.6],[91.85,-1.5],[92.1,-3],[92.2,-4],[92.35,-6.4],[92.48,-7.9],[92.6,-8.5],[92.74,-9],[92.87,-10.7],[93.0,-11],[93.12,-11.2],[93.25,-11.4],[93.38,-12.1],[93.51,-12],[93.64,-12],[93.77,-11.8],[93.9,-12.1],[94.02,-12],[94.15,-12.1],[94.28,-11.8],[94.41,-12.1],[94.54,-12.5],[94.67,-12.5],[94.79,-12.9],[94.92,-13],[95.05,-13.3],[95.18,-13],[95.31,-12.8],[95.44,-12.4],[95.56,-12.1],[95.69,-12.1],[95.82,-12.1],[95.95,-12.1],[96.08,-12.1],[96.21,-12.1],[96.33,-12.3],[96.46,-12.4],[96.59,-12.6],[96.72,-12.9],[96.85,-12.9],[96.98,-12.9],
  [92.54,-9],[92.67,-9.6],[92.8,-10.2],[92.93,-11.5],[93.06,-12],[93.19,-12.3],[93.32,-12.6],[93.45,-13],[93.58,-13],[93.71,-13],[93.84,-13],[93.97,-13.2],[94.09,-13.1],[94.22,-13.2],[94.35,-13.1],[94.48,-13.4],[94.61,-13.6],[94.74,-13.7],[94.86,-14],[94.99,-14.2],[95.12,-14.3],[95.25,-14],[95.38,-13.6],[95.5,-13.3],[95.63,-13.1],[95.76,-13],[95.89,-13],[96.02,-13.1],[96.15,-13.2],[96.28,-13.2],[96.4,-13.3],[96.53,-13.5],[96.66,-13.7],[96.79,-13.9],[96.92,-14]]
];

// ---------- KAS12 ----------
const kas12Names = ["KAS12:0\u00a0 -101","KAS12:102-233","KAS12:234-277","KAS12:278-329","KAS12:330-380"];
const kas12Lines = [
 [[90.75,0],[90.91,1],[91.75,1.3],[92.07,0.7],[92.33,-0.4],[92.65,-1.9],[92.78,-2.6],[92.84,-7.6],[92.9,-16.2],[92.97,-20.1],[93.1,-23.3],[93.23,-26.1],[93.35,-27.3],[93.61,-27.6],[93.8,-27.3],[93.99,-27.6],[94.13,-28.3],[94.25,-31.2],[94.35,-35.5],[94.51,-34.7],[94.58,-34],[94.7,-35.5],[94.83,-36.5],[95.09,-36.2],[95.22,-36.2],[95.28,-34.7],[95.41,-33.4],[95.67,-32.2],[95.93,-31.8],[96.18,-32.1],[96.44,-32.1],[96.57,-31.2],[96.76,-30.8],[97.02,-31.2]],
 [[90.75,0],[90.91,0.8],[91.75,1],[92.33,-1.2],[92.78,-3.3],[92.84,-9],[92.9,-17.6],[92.97,-21.8],[93.1,-24.8],[93.23,-27.6],[93.35,-29],[93.61,-28.7],[93.87,-29],[93.99,-28.7],[94.13,-29],[94.22,-31.2],[94.35,-37],[94.51,-37],[94.7,-37.7],[94.83,-39],[95.16,-39],[95.28,-37.7],[95.41,-35.9],[95.67,-34.4],[96.06,-34],[96.44,-34.4],[96.76,-32.6],[97.02,-33]],
 [[90.75,0],[91.75,0.8],[92.33,-1.5],[92.78,-3.5],[92.84,-10.5],[92.9,-19.8],[92.97,-24.1],[93.1,-27.6],[93.23,-29.8],[93.35,-31.2],[93.61,-31.2],[93.87,-30.5],[93.99,-31.2],[94.13,-31.2],[94.22,-33.2],[94.35,-42],[94.51,-40.5],[94.58,-40.5],[94.7,-42.6],[94.83,-43],[95.16,-43.7],[95.28,-41.7],[95.41,-39],[95.67,-38],[96.06,-37.4],[96.44,-37.7],[96.76,-35.9],[97.02,-36.2]],
 [[90.75,0],[91.75,0.5],[92.33,-1.8],[92.78,-3.8],[92.84,-11],[92.9,-18.3],[92.97,-22.6],[93.1,-26.1],[93.23,-28.4],[93.35,-30.2],[93.61,-30.2],[93.87,-29.8],[93.99,-29.8],[94.13,-28.4],[94.19,-37.6],[94.35,-43.4],[94.51,-41.3],[94.7,-43.4],[94.83,-44.1],[95.16,-44.7],[95.28,-42.6],[95.41,-39.7],[95.67,-38.7],[96.06,-38.7],[96.44,-39],[96.76,-37.2],[97.02,-37.6]],
 [[90.75,0],[91.75,0.3],[92.33,-2],[92.78,-4],[92.84,-10],[92.9,-16.2],[92.97,-20.5],[93.1,-24.1],[93.23,-25.4],[93.35,-26.9],[93.61,-26.9],[93.87,-26.9],[93.99,-26.5],[94.13,-27.4],[94.22,-38.3],[94.35,-43.7],[94.51,-42],[94.7,-43.8],[94.83,-44.6],[95.16,-45],[95.28,-43],[95.41,-40.1],[95.67,-39.3],[96.06,-39],[96.44,-39.3],[96.76,-37.6],[97.02,-38.3]]
];
const kas12Points = [
 [[90.91,1],[91.04,1],[91.2,1.2],[91.35,1],[91.5,1.2],[91.65,1],[91.8,1],[91.95,0.8],[92.1,0.5],[92.25,0],[92.4,-0.5],[92.55,-1],[92.7,-1.5],[92.84,-12.6],[92.9,-15.5],[92.97,-15],[93.03,-14.5],[93.1,-16.9],[93.23,-19.7]],
 [[90.81,3.1],[91.04,2.2],[91.15,2.3],[91.25,2],[91.35,2],[91.45,1.9],[91.55,1.5],[91.75,1.2],[91.9,1],[92.05,0.8],[92.2,0.5],[92.35,0],[92.5,-0.5],[92.65,-1],[92.75,-1.5],[92.84,-11.9],[92.97,-14],[93.23,-18.3],[93.3,-19],[93.37,-19.8],[93.44,-20.5],[93.5,-21],[93.57,-21.8],[93.64,-22.6],[94.13,-31.2],[95.22,-51.9],[95.32,-46.9]],
 [[90.81,-4.7],[91.46,-7.6],[91.49,-7],[92.0,1.7],[92.97,-12.6],[93.1,-15],[93.2,-17],[93.3,-19],[93.4,-20.5],[93.5,-22],[93.6,-23],[93.7,-24],[93.8,-25],[93.9,-25.5],[94.0,-25.5],[94.1,-26],[94.2,-27],[95.22,-50],[95.32,-48.5]],
 [[90.77,-8.3],[90.81,-7.6],[90.88,-4.7],[90.95,-0.4],[91.05,-0.4],[91.15,-0.6],[91.25,-0.5],[91.35,-0.5],[91.46,-3],[91.52,-1.2],[92.9,-8.5],[92.97,-12],[93.03,-13],[93.1,-15],[93.2,-17],[93.3,-20],[93.4,-22],[93.5,-23],[93.6,-24.5],[93.7,-25],[94.77,-49],[94.83,-50.4],[94.9,-50],[94.96,-49.5],[95.03,-50.4]],
 [[90.77,-2.5],[90.81,-3.5],[90.88,-2],[90.95,0],[91.1,0.2],[91.25,-0.2],[91.4,0],[91.55,0.3],[91.7,-0.5],[91.85,-1],[92.0,-1],[92.15,-1.3],[92.3,-1.8],[92.45,-2],[92.6,-2.5],[92.75,-3],[92.9,-10],[93.0,-15.5],[93.1,-17],[93.2,-18.5],[93.3,-20],[93.4,-21.5],[93.5,-23],[93.6,-24],[93.7,-24.5],[93.8,-24],[93.9,-25],[94.0,-24],[94.1,-24.5],[94.2,-27.6],[94.25,-30.4],[95.0,-48.4],[95.09,-48.4],[95.16,-48.5],[95.22,-54.8],[95.28,-52],[95.41,-52],[95.54,-51],[95.67,-51.3],[95.8,-52],[95.93,-52.7],[96.06,-54.2],[96.09,-54.8]]
];

// ---------- KAS14 ----------
const kas14Names = ["KAS14:0\u00a0 -130","KAS14:131-138","KAS14:139-146","KAS14:147-175","KAS14:176-212"];
const kas14Lines = [
 [[90.75,0],[91.12,0.7],[91.51,0.7],[91.76,0],[92.02,-0.4],[92.15,-3],[92.41,-4.7],[92.66,-5.7],[93.05,-6.1],[93.43,-7.2],[93.69,-6.4],[94.33,-6.4],[94.72,-6.8],[95.23,-7],[95.49,-6.4],[95.75,-6.1],[96.26,-5.8],[97.03,-5.8]],
 [[90.75,0],[91.12,0.3],[91.51,0.3],[91.76,0],[92.02,-0.7],[92.09,-4.6],[92.21,-8.9],[92.41,-11],[92.54,-13.2],[92.73,-13.5],[93.05,-14.3],[93.31,-14.9],[93.43,-17.2],[93.56,-15.7],[93.88,-16],[94.2,-15.7],[94.53,-15.7],[94.85,-15.7],[95.17,-16],[95.49,-14.9],[95.75,-13.5],[96.26,-13.5],[97.03,-13.2]],
 [[90.75,0],[91.76,-0.3],[92.02,-0.7],[92.12,-6.8],[92.21,-10.4],[92.41,-12.5],[92.54,-14.6],[92.73,-14.9],[93.05,-16],[93.31,-16.7],[93.43,-18.6],[93.56,-17.2],[93.88,-17.4],[94.2,-17.2],[94.85,-17.2],[95.17,-17.4],[95.49,-16],[95.75,-14.6],[96.26,-14.6],[97.03,-14.3]],
 [[90.75,0],[91.76,-0.3],[92.02,-0.7],[92.07,-5.4],[92.21,-11.8],[92.41,-14.6],[92.54,-17.4],[92.73,-18.2],[93.05,-19.1],[93.31,-19.6],[93.43,-21.7],[93.56,-20],[93.88,-20.3],[94.2,-19.6],[94.72,-19.1],[95.23,-19.6],[95.49,-18.2],[95.75,-16],[96.26,-16],[97.03,-16]],
 [[90.75,0],[91.76,-0.3],[92.02,-0.8],[92.09,-6],[92.21,-12.5],[92.41,-15.7],[92.54,-18.9],[92.73,-19.5],[93.05,-20],[93.31,-20.3],[93.43,-22.4],[93.56,-20.5],[93.88,-20.6],[94.2,-20],[94.72,-19.8],[95.23,-20],[95.49,-18.6],[95.75,-16.7],[96.26,-16.7],[97.03,-16.7]]
];
const kas14Points = [
 [[91.89,-0.8],[92.15,-3.5]],
 [[91.44,-2.6],[92.28,-5.5]],
 [[95.3,-11.8],[95.36,-11.8],[95.42,-11.9],[95.49,-12],[95.55,-12],[95.62,-12],[95.33,-13],[95.39,-13],[95.46,-13],[95.52,-13],[95.59,-13]],
 [[91.48,-4],[91.44,-3.5],[92.12,-4],[92.41,-6.1],[92.66,-8.2],[93.05,-9.6],[93.43,-11],[93.69,-11],[94.07,-11.5],[94.33,-15.3],[94.46,-12.2],[94.72,-12.5],[94.79,-12.6],[94.85,-12.9],[94.92,-13],[94.98,-13.2],[95.04,-13.3],[95.1,-13.5],[95.17,-13.5],[95.23,-13.5],[95.26,-13.3],[94.75,-14],[94.82,-14.2],[94.88,-14.3],[94.95,-14.4],[95.01,-14.5],[95.07,-14.5],[95.14,-14.5],[95.2,-14.3]],
 [[90.78,-0.3],[90.88,-0.5],[90.98,-0.2],[91.08,0],[91.18,0.3],[91.28,0],[91.38,-0.5],[91.48,-0.8],[91.58,-1],[91.68,-0.5],[91.76,-1.5],[91.82,-3],[91.89,-3],[91.96,-2.8],[92.02,-2.5],[92.09,-3.5],[92.15,-5],[92.21,-5.5],[92.28,-6.1],[92.35,-7],[92.41,-7.5],[92.48,-8],[92.54,-8.5],[92.6,-8.7],[92.66,-8.9],[92.73,-9],[92.79,-9.5],[92.86,-9.8],[92.92,-10],[92.99,-10.2],[93.05,-10.4],[93.12,-10.6],[93.18,-10.8],[93.24,-11],[93.31,-11],[93.37,-11.2],[93.43,-13.9],[93.5,-11.3],[93.56,-11.4],[93.62,-11.5],[93.69,-11.5],[93.75,-11.6],[93.82,-11.8],[93.88,-11.8],[93.95,-12],[94.01,-12],[94.07,-12.1],[94.14,-12.2],[94.2,-12.3],[94.27,-12.3],[94.33,-12.5],[94.4,-12.5],[94.46,-12.6],[94.53,-12.7],[94.6,-12.8],[94.66,-12.9],[94.72,-12.9],
  [92.18,-6.5],[92.25,-7.3],[92.31,-8],[92.38,-8.6],[92.45,-9],[92.51,-9.5],[92.57,-9.8],[92.63,-10.1],[92.7,-10.3],[92.76,-10.6],[92.83,-11],[92.89,-11.2],[92.96,-11.4],[93.02,-11.6],[93.09,-11.8],[93.15,-12],[93.21,-12.2],[93.28,-12.3],[93.34,-12.4],[93.47,-12.6],[93.53,-12.7],[93.59,-12.7],[93.66,-12.8],[93.72,-12.9],[93.79,-13],[93.85,-13.1],[93.92,-13.2],[93.98,-13.3],[94.04,-13.4],[94.11,-13.5],[94.17,-13.5],[94.24,-13.6],[94.3,-13.7],[94.37,-13.8],[94.43,-13.8],[94.5,-13.9],[94.56,-14],[94.63,-14],[94.69,-14.1]]
];

// ---------- layout (positions only) ----------
const panels = [
 {names:kas02Names, lines:kas02Lines, pts:kas02Points, x0:60, x1:423, yT:10.1, yB:265, ms:5.5,
  leg:{x:270,y:181,w:133,h:75,r0:192.7,dy:10.27,mx:282.7,l1:296,l2:319.3,tx:335,ms:4}},
 {names:kas03Names, lines:kas03Lines, pts:kas03Points, x0:593.3, x1:956, yT:10.1, yB:265.7, ms:5.5,
  leg:{x:597.3,y:175.7,w:146,h:87.6,r0:189,dy:12.2,mx:611.7,l1:626,l2:652.3,tx:661.7,ms:5}},
 {names:kas04Names, lines:kas04Lines, pts:kas04Points, x0:56.7, x1:420, yT:394.2, yB:648.3, ms:5.5,
  leg:{x:69.3,y:565,w:117.4,h:75,r0:576.3,dy:10.6,mx:80,l1:94.3,l2:119.3,tx:119.3,ms:4}},
 {names:kas05Names, lines:kas05Lines, pts:kas05Points, x0:597.3, x1:960.7, yT:387.8, yB:643.3, ms:3.8,
  leg:{x:822.7,y:557.7,w:131.6,h:71.6,r0:569.3,dy:12.25,mx:836.7,l1:851.7,l2:879.3,tx:879.3,ms:4.5}},
 {names:kas06Names, lines:kas06Lines, pts:kas06Points, x0:55, x1:418.6, yT:766.8, yB:1021.7, ms:5.5,
  leg:{x:65.7,y:923.3,w:132,h:86,r0:935,dy:12.45,mx:80,l1:95,l2:121.7,tx:121.7,ms:4.5}},
 {names:kas07Names, lines:kas07Lines, pts:kas07Points, x0:600, x1:964, yT:766, yB:1021.7, ms:5.5,
  leg:{x:615.7,y:931.7,w:131.6,h:86.6,r0:944.3,dy:12.3,mx:629.3,l1:644.3,l2:671.7,tx:671.7,ms:4.5}},
 {names:kas08Names, lines:kas08Lines, pts:kas08Points, x0:55, x1:418.6, yT:1148.5, yB:1403.3, ms:5.5,
  leg:{x:66,y:1341.7,w:132.7,h:58.3,r0:1352,dy:12.45,mx:80,l1:95,l2:121.7,tx:121.7,ms:4.5}},
 {names:kas09Names, lines:kas09Lines, pts:kas09Points, x0:600, x1:964, yT:1148.5, yB:1403.3, ms:5.5,
  leg:{x:633.3,y:1321.7,w:130.7,h:70,r0:1332,dy:12.2,mx:647.3,l1:662.3,l2:689.3,tx:689.3,ms:4.5}},
 {names:kas12Names, lines:kas12Lines, pts:kas12Points, x0:58.3, x1:421, yT:1539, yB:1795, ms:5.5,
  leg:{x:64,y:1714.3,w:132,h:72.4,r0:1727.3,dy:12.1,mx:78.3,l1:93.3,l2:120,tx:120,ms:4.5}},
 {names:kas14Names, lines:kas14Lines, pts:kas14Points, x0:604, x1:967.3, yT:1539.2, yB:1794, ms:5.5,
  leg:{x:619.3,y:1713.3,w:132.4,h:72.7,r0:1725.7,dy:12.25,mx:634,l1:648.3,l2:675,tx:675,ms:4.5}}
];

const svg = d3.select("#c");
const gridColor = "#1414f0";
const textStroke = 0.25;

panels.forEach((p, pi) => {
  const x = d3.scaleLinear().domain([90.75, 97.75]).range([p.x0, p.x1]);
  const y = d3.scaleLinear().domain([10, -100]).range([p.yT, p.yB]);
  const g = svg.append("g");
  const clipId = "clip" + pi;
  g.append("clipPath").attr("id", clipId).append("rect")
    .attr("x", p.x0).attr("y", p.yT).attr("width", p.x1 - p.x0).attr("height", p.yB - p.yT);

  // grid
  g.append("g").selectAll("line").data(xTickYears.slice(1, -1)).join("line")
    .attr("x1", d => x(d)).attr("x2", d => x(d)).attr("y1", p.yT).attr("y2", p.yB)
    .attr("stroke", gridColor).attr("stroke-width", 1.3);
  g.append("g").selectAll("line").data(yGrid).join("line")
    .attr("x1", p.x0).attr("x2", p.x1).attr("y1", d => y(d)).attr("y2", d => y(d))
    .attr("stroke", gridColor).attr("stroke-width", 1.3);

  const plot = g.append("g").attr("clip-path", `url(#${clipId})`);
  // squares
  p.pts.forEach((ser, si) => {
    plot.append("g").selectAll("rect").data(ser).join("rect")
      .attr("x", d => x(d[0]) - p.ms / 2).attr("y", d => y(d[1]) - p.ms / 2)
      .attr("width", p.ms).attr("height", p.ms).attr("fill", seriesColors[si]);
  });
  // lines
  const lineGen = d3.line().x(d => x(d[0])).y(d => y(d[1]));
  p.lines.forEach((ser, si) => {
    plot.append("path").datum(ser).attr("d", lineGen)
      .attr("fill", "none").attr("stroke", seriesColors[si]).attr("stroke-width", 1.5)
      .attr("stroke-linejoin", "round");
  });

  // frame
  g.append("rect").attr("x", p.x0).attr("y", p.yT).attr("width", p.x1 - p.x0).attr("height", p.yB - p.yT)
    .attr("fill", "none").attr("stroke", "#000").attr("stroke-width", 1.3);

  // axes
  const ax = g.append("g").attr("transform", `translate(0,${p.yB})`)
    .call(d3.axisBottom(x).tickValues(xTickYears).tickFormat((d, i) => xTickLabels[i]).tickSize(4).tickPadding(6));
  const axm = g.append("g").attr("transform", `translate(0,${p.yB})`)
    .call(d3.axisBottom(x).tickValues(xMinorYears).tickFormat("").tickSize(2.5));
  const ay = g.append("g").attr("transform", `translate(${p.x0},0)`)
    .call(d3.axisLeft(y).tickValues(yTicks).tickSize(4).tickPadding(4));
  const aym = g.append("g").attr("transform", `translate(${p.x0},0)`)
    .call(d3.axisLeft(y).tickValues(yMinor).tickFormat("").tickSize(2.5));
  [ax, axm, ay, aym].forEach(a => {
    a.select(".domain").remove();
    a.selectAll("line").attr("stroke", "#000").attr("stroke-width", 1.2);
    a.selectAll("text").attr("fill", "#000").attr("font-size", 9)
      .attr("stroke", "#000").attr("stroke-width", textStroke)
      .attr("font-family", "Liberation Sans, Arial, sans-serif");
  });

  // axis titles
  g.append("text").attr("x", (p.x0 + p.x1) / 2).attr("y", p.yB + 37.5)
    .attr("text-anchor", "middle").attr("font-size", 12.5).attr("fill", "#000")
    .attr("stroke", "#000").attr("stroke-width", textStroke).text("Date");
  const yl = g.append("text")
    .attr("transform", `translate(${p.x0 - 39},${(p.yT + p.yB) / 2 + 9}) rotate(-90)`)
    .attr("text-anchor", "middle").attr("font-size", 12.5).attr("fill", "#000")
    .attr("stroke", "#000").attr("stroke-width", textStroke);
  yl.append("tspan").text("Drawdown (mH");
  yl.append("tspan").attr("font-size", 8).attr("dy", 3).text("2");
  yl.append("tspan").attr("dy", -3).text("O)");

  // legend
  const L = p.leg;
  g.append("rect").attr("x", L.x + 1.5).attr("y", L.y + 1.5).attr("width", L.w).attr("height", L.h).attr("fill", "#000");
  g.append("rect").attr("x", L.x).attr("y", L.y).attr("width", L.w).attr("height", L.h)
    .attr("fill", "#e0e0e0").attr("stroke", "#000").attr("stroke-width", 1.2);
  p.names.forEach((nm, i) => {
    const cy = L.r0 + i * L.dy;
    g.append("rect").attr("x", L.mx - L.ms / 2).attr("y", cy - L.ms / 2).attr("width", L.ms).attr("height", L.ms)
      .attr("fill", seriesColors[i]);
    g.append("line").attr("x1", L.l1).attr("x2", L.l2).attr("y1", cy).attr("y2", cy)
      .attr("stroke", seriesColors[i]).attr("stroke-width", 1.5);
    g.append("text").attr("x", L.tx).attr("y", cy + 3.3).attr("font-size", 9).attr("fill", "#000")
      .attr("stroke", "#000").attr("stroke-width", 0.15).text(nm);
  });
});
</script>
</body></html>
